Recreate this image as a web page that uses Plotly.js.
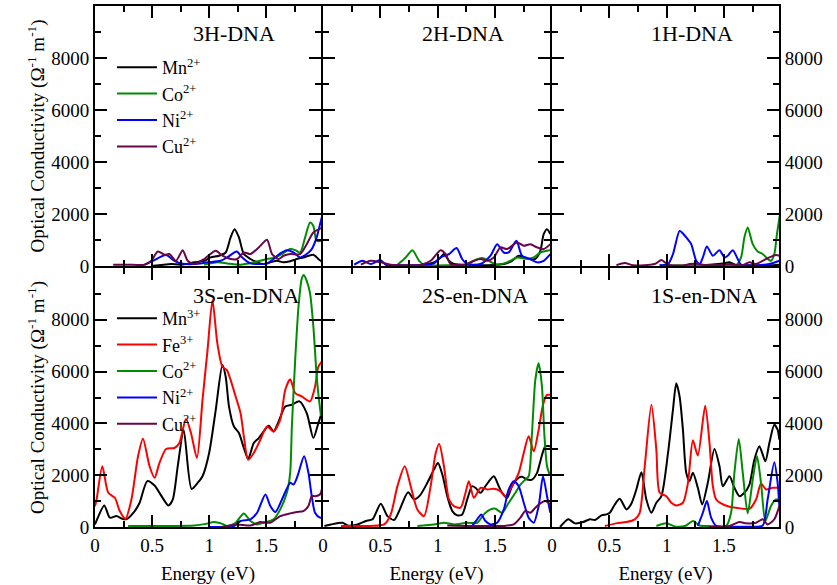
<!DOCTYPE html>
<html>
<head>
<meta charset="utf-8">
<script src="https://cdn.plot.ly/plotly-3.0.1.min.js"></script>
<style>html,body{margin:0;padding:0;background:#fff;}#chart{width:837px;height:585px;}</style>
</head>
<body>
<div id="chart"></div>
<script>
// ---------- DATA (Energy in eV, optical conductivity in Ω^-1 m^-1) ----------
// 3H-DNA
const e3H_Mn = [0.493,0.580,0.667,0.754,0.870,0.957,1.014,1.087,1.145,1.188,1.223,1.261,1.304,1.362,1.420,1.478,1.536,1.594,1.652,1.710,1.768,1.826,1.913,1.957,1.994];
const v3H_Mn = [0,40,75,50,140,200,330,395,520,1100,1415,1100,460,270,140,75,140,200,140,180,270,330,435,270,140];
const e3H_Co = [0.957,1.072,1.159,1.275,1.391,1.507,1.580,1.638,1.710,1.754,1.797,1.841,1.884,1.913,1.942,1.994];
const v3H_Co = [50,140,100,50,140,270,330,460,650,610,520,1100,1670,1540,970,970];
const e3H_Ni = [0.435,0.507,0.623,0.696,0.754,0.870,0.986,1.101,1.159,1.241,1.290,1.362,1.449,1.507,1.565,1.623,1.681,1.739,1.797,1.855,1.899,1.942,1.971,1.994];
const v3H_Ni = [50,200,420,200,100,75,140,200,330,560,330,100,75,100,270,485,610,520,330,460,650,1100,1600,1990];
const e3H_Cu = [0.159,0.290,0.435,0.493,0.551,0.609,0.652,0.710,0.768,0.812,0.870,0.957,1.058,1.116,1.188,1.246,1.304,1.362,1.435,1.507,1.551,1.609,1.652,1.710,1.797,1.855,1.913,1.994];
const v3H_Cu = [50,50,50,200,560,435,460,200,610,200,75,270,590,395,270,270,520,460,715,1010,460,270,395,460,460,840,1290,1480];

// 2H-DNA
const e2H_Mn = [0.852,0.968,1.026,1.055,1.099,1.142,1.287,1.432,1.577,1.649,1.707,1.751,1.794,1.852,1.896,1.925,1.954,1.983];
const v2H_Mn = [40,140,330,460,200,75,30,30,75,200,395,330,270,270,585,1225,1415,1225];
const e2H_Co = [0.649,0.722,0.780,0.838,0.881,1.142,1.258,1.316,1.388,1.446,1.519,1.606,1.693,1.780,1.838,1.896,1.954,1.983];
const v2H_Co = [50,330,610,200,50,30,30,200,305,200,50,140,330,270,330,520,585,610];
const e2H_Ni = [0.272,0.345,0.417,0.499,0.548,0.707,0.852,0.968,1.026,1.099,1.165,1.214,1.258,1.374,1.461,1.519,1.577,1.620,1.687,1.736,1.809,1.867,1.925,1.983];
const v2H_Ni = [50,200,75,230,50,30,40,100,330,460,690,270,75,75,395,840,520,520,970,395,270,140,200,460];
const e2H_Cu = [0.330,0.417,0.504,0.591,0.707,0.852,0.939,1.026,1.070,1.113,1.229,1.316,1.374,1.432,1.490,1.548,1.606,1.693,1.751,1.809,1.867,1.925,1.983];
const v2H_Cu = [50,200,140,50,30,40,200,610,460,75,50,200,270,200,330,715,650,905,780,840,715,650,840];

// 1H-DNA
const e1H_Mn = [1.142,1.287,1.490,1.548,1.606,1.722,1.838,1.983];
const v1H_Mn = [10,30,100,140,30,30,10,50];
const e1H_Co = [0.939,1.142,1.432,1.606,1.649,1.678,1.707,1.751,1.794,1.838,1.881,1.910,1.939,1.962,1.988];
const v1H_Co = [30,20,20,30,330,1100,1480,840,560,460,270,200,460,1225,1990];
const e1H_Ni = [0.939,1.012,1.055,1.113,1.142,1.171,1.214,1.258,1.287,1.316,1.351,1.403,1.461,1.504,1.533,1.577,1.620,1.649,1.780,1.896,1.983];
const v1H_Ni = [30,75,460,1350,1250,1100,840,200,75,330,750,395,610,330,395,610,270,50,30,75,200];
const e1H_Cu = [0.562,0.635,0.707,0.896,0.954,1.012,1.142,1.200,1.258,1.316,1.432,1.548,1.664,1.722,1.780,1.838,1.896,1.954,1.983];
const v1H_Cu = [30,115,30,75,230,50,20,75,100,50,30,75,30,140,75,200,330,420,395];

// 3S-en-DNA
const e3S_Mn = [0,0.014,0.081,0.130,0.188,0.232,0.275,0.348,0.391,0.458,0.522,0.565,0.643,0.681,0.725,0.777,0.846,0.899,0.942,1.000,1.058,1.116,1.145,1.174,1.217,1.261,1.304,1.342,1.391,1.435,1.478,1.522,1.565,1.609,1.667,1.725,1.791,1.855,1.913,1.957,1.986];
const v3S_Mn = [100,250,833,360,420,330,300,615,935,1770,1600,1320,833,1060,2350,3750,1470,1700,1960,2860,4525,6256,5800,4650,3880,3630,3050,2630,3240,3435,3690,3910,3690,4080,4650,4720,4850,4400,3435,4010,4400];
const e3S_Fe = [0,0.014,0.064,0.116,0.174,0.217,0.267,0.319,0.377,0.420,0.478,0.522,0.565,0.623,0.696,0.739,0.797,0.841,0.893,0.942,0.986,1.029,1.072,1.116,1.154,1.188,1.232,1.275,1.304,1.342,1.391,1.449,1.507,1.565,1.623,1.667,1.710,1.754,1.812,1.884,1.928,1.957,1.994];
const v3S_Fe = [800,1060,2346,1320,1130,615,320,1060,2730,3410,2346,1900,2475,3013,3050,3240,4166,3630,2667,4910,6833,8756,7090,6190,6064,5680,5040,4400,3500,2600,2860,3370,3880,3690,4140,5300,5700,5170,5040,4850,5420,6190,6420];
const e3S_Co = [0.29,0.58,0.87,0.971,1.043,1.116,1.159,1.232,1.304,1.362,1.42,1.478,1.565,1.623,1.681,1.710,1.725,1.754,1.783,1.812,1.830,1.855,1.884,1.913,1.942,1.962,1.980];
const v3S_Co = [40,40,60,120,190,120,40,165,525,230,100,165,300,680,1320,2090,3900,6460,8510,9600,9730,9500,9024,7744,5824,4930,4290];
const e3S_Ni = [1.0,1.217,1.275,1.362,1.420,1.493,1.536,1.580,1.638,1.710,1.739,1.774,1.832,1.870,1.899,1.928,1.971,2.0];
const v3S_Ni = [0,40,230,295,550,1256,810,577,1064,1705,1640,1960,2730,2090,1190,550,360,360];
const e3S_Cu = [1.1,1.159,1.246,1.362,1.449,1.536,1.623,1.710,1.768,1.826,1.870,1.899,1.928,1.971,2.0];
const v3S_Cu = [0,40,100,60,190,165,420,525,577,615,810,1190,1190,1256,1705];

// 2S-en-DNA
const e2S_Mn = [0.012,0.070,0.171,0.214,0.301,0.374,0.432,0.504,0.562,0.620,0.664,0.742,0.794,0.846,0.910,0.968,1.003,1.041,1.084,1.128,1.171,1.214,1.258,1.301,1.330,1.374,1.417,1.490,1.533,1.562,1.606,1.649,1.707,1.736,1.780,1.823,1.867,1.896,1.939,1.983];
const v2S_Mn = [40,100,165,60,100,230,300,900,420,270,615,1346,1064,1220,1705,2218,2474,2025,1190,615,450,487,1064,1577,1513,1320,1577,1960,1577,1320,1130,1577,1900,1936,1833,1833,2090,2540,3115,3115];
const e2S_Fe = [0.157,0.272,0.417,0.533,0.591,0.649,0.713,0.765,0.823,0.881,0.939,0.983,1.014,1.055,1.099,1.142,1.200,1.243,1.272,1.316,1.374,1.432,1.490,1.548,1.591,1.649,1.707,1.751,1.794,1.838,1.881,1.919,1.954,1.983];
const v2S_Fe = [40,40,40,100,490,1577,2346,1577,680,420,1577,2860,3205,2346,1064,808,744,1320,1770,1130,1513,1450,1475,1385,1190,1577,2090,2860,3500,2920,3756,4720,5100,5100];
const e2S_Co = [0.823,0.968,1.055,1.142,1.258,1.345,1.403,1.461,1.504,1.562,1.620,1.678,1.722,1.765,1.794,1.823,1.852,1.881,1.910,1.930,1.954,1.977];
const v2S_Co = [40,100,165,100,165,165,487,680,705,550,935,1320,1640,1833,1960,3630,5680,6320,5420,3630,2346,2025];
const e2S_Ni = [1.301,1.345,1.380,1.417,1.461,1.519,1.577,1.620,1.664,1.707,1.751,1.794,1.838,1.881,1.919,1.954,1.983];
const v2S_Ni = [40,295,487,230,100,165,680,1450,1770,1577,935,360,165,808,1960,1190,550];
const e2S_Cu = [1.084,1.287,1.432,1.577,1.664,1.722,1.765,1.809,1.852,1.896,1.939,1.983];
const v2S_Cu = [60,40,40,40,100,360,615,550,744,910,1000,870];

// 1S-en-DNA
const e1S_Mn = [0.070,0.142,0.200,0.272,0.330,0.374,0.432,0.475,0.504,0.548,0.591,0.649,0.693,0.736,0.780,0.823,0.867,0.910,0.954,1.012,1.055,1.084,1.113,1.142,1.171,1.200,1.229,1.272,1.310,1.359,1.417,1.461,1.490,1.548,1.591,1.635,1.678,1.722,1.765,1.809,1.861,1.896,1.939,1.968,1.983];
const v1S_Mn = [0,300,140,190,300,270,450,487,550,870,1090,680,910,1450,2115,1064,550,935,1190,2860,4525,5550,5040,3756,2090,1770,2090,1513,870,1705,3013,2346,1577,1960,1513,1190,1320,1640,2600,3115,2540,3240,3950,3756,3370];
const e1S_Fe = [0.461,0.562,0.649,0.722,0.765,0.809,0.867,0.910,0.939,0.997,1.041,1.084,1.142,1.186,1.229,1.272,1.336,1.374,1.403,1.432,1.475,1.548,1.606,1.722,1.780,1.823,1.867,1.925,1.983];
const v1S_Fe = [40,140,190,295,550,2346,4720,2990,1320,1190,935,833,935,1705,3346,2756,4680,3240,1577,1064,910,782,744,705,1064,1680,1450,1513,1513];
const e1S_Co = [0.910,0.997,1.084,1.171,1.229,1.287,1.374,1.519,1.562,1.591,1.629,1.664,1.707,1.751,1.788,1.823,1.861,1.910,1.954,1.983];
const v1S_Co = [40,140,10,60,230,60,40,40,550,2090,3400,2090,525,1833,2730,1705,230,808,1064,1064];
const e1S_Ni = [1.272,1.316,1.351,1.388,1.432,1.577,1.722,1.838,1.881,1.939,1.968,1.983];
const v1S_Ni = [40,550,1000,360,40,10,10,60,1064,2500,1705,808];
const e1S_Cu = [1.374,1.548,1.635,1.693,1.780,1.838,1.881,1.939,1.983];
const v1S_Cu = [0,40,190,140,165,300,100,300,808];

// Labels
const panelTitles = ['3H-DNA','2H-DNA','1H-DNA','3S-en-DNA','2S-en-DNA','1S-en-DNA'];
const xTickVals = [0, 0.5, 1, 1.5];
const xTickText = ['0', '0.5', '1', '1.5'];
const yTickVals = [0, 2000, 4000, 6000, 8000];
const yTickText = ['0', '2000', '4000', '6000', '8000'];
const xTitle = 'Energy (eV)';
const yTitle = 'Optical Conductivity (Ω<sup>-1</sup> m<sup>-1</sup>)';

// ---------- STYLE ----------
const C = {Mn:'#000000', Fe:'#ff0000', Co:'#008c00', Ni:'#0000ff', Cu:'#670748'};
const FONT = 'Liberation Serif';

function tr(x, y, ion, charge, xa, ya, legend, show) {
  return {
    x: x, y: y, type: 'scatter', mode: 'lines',
    name: ion + '<sup>' + charge + '</sup>',
    line: {color: C[ion], width: 2, shape: 'spline', smoothing: 0.7},
    xaxis: xa, yaxis: ya, legend: legend, showlegend: show, hoverinfo: 'skip'
  };
}

const data = [
  tr(e3H_Mn, v3H_Mn, 'Mn', '2+', 'x', 'y', 'legend', true),
  tr(e3H_Co, v3H_Co, 'Co', '2+', 'x', 'y', 'legend', true),
  tr(e3H_Ni, v3H_Ni, 'Ni', '2+', 'x', 'y', 'legend', true),
  tr(e3H_Cu, v3H_Cu, 'Cu', '2+', 'x', 'y', 'legend', true),
  tr(e2H_Mn, v2H_Mn, 'Mn', '2+', 'x2', 'y2', 'legend', false),
  tr(e2H_Co, v2H_Co, 'Co', '2+', 'x2', 'y2', 'legend', false),
  tr(e2H_Ni, v2H_Ni, 'Ni', '2+', 'x2', 'y2', 'legend', false),
  tr(e2H_Cu, v2H_Cu, 'Cu', '2+', 'x2', 'y2', 'legend', false),
  tr(e1H_Mn, v1H_Mn, 'Mn', '2+', 'x3', 'y3', 'legend', false),
  tr(e1H_Co, v1H_Co, 'Co', '2+', 'x3', 'y3', 'legend', false),
  tr(e1H_Ni, v1H_Ni, 'Ni', '2+', 'x3', 'y3', 'legend', false),
  tr(e1H_Cu, v1H_Cu, 'Cu', '2+', 'x3', 'y3', 'legend', false),
  tr(e3S_Mn, v3S_Mn, 'Mn', '3+', 'x4', 'y4', 'legend2', true),
  tr(e3S_Fe, v3S_Fe, 'Fe', '3+', 'x4', 'y4', 'legend2', true),
  tr(e3S_Co, v3S_Co, 'Co', '2+', 'x4', 'y4', 'legend2', true),
  tr(e3S_Ni, v3S_Ni, 'Ni', '2+', 'x4', 'y4', 'legend2', true),
  tr(e3S_Cu, v3S_Cu, 'Cu', '2+', 'x4', 'y4', 'legend2', true),
  tr(e2S_Mn, v2S_Mn, 'Mn', '3+', 'x5', 'y5', 'legend2', false),
  tr(e2S_Fe, v2S_Fe, 'Fe', '3+', 'x5', 'y5', 'legend2', false),
  tr(e2S_Co, v2S_Co, 'Co', '2+', 'x5', 'y5', 'legend2', false),
  tr(e2S_Ni, v2S_Ni, 'Ni', '2+', 'x5', 'y5', 'legend2', false),
  tr(e2S_Cu, v2S_Cu, 'Cu', '2+', 'x5', 'y5', 'legend2', false),
  tr(e1S_Mn, v1S_Mn, 'Mn', '3+', 'x6', 'y6', 'legend2', false),
  tr(e1S_Fe, v1S_Fe, 'Fe', '3+', 'x6', 'y6', 'legend2', false),
  tr(e1S_Co, v1S_Co, 'Co', '2+', 'x6', 'y6', 'legend2', false),
  tr(e1S_Ni, v1S_Ni, 'Ni', '2+', 'x6', 'y6', 'legend2', false),
  tr(e1S_Cu, v1S_Cu, 'Cu', '2+', 'x6', 'y6', 'legend2', false)
];

const W = 837, H = 585;
// domains chosen so that the shared frame lines of neighbouring panels coincide
const colX = [[95, 321], [323, 550], [552, 779]];
const rowY = [[6, 266], [268, 527]];
const px2x = p => p / W;
const py2y = p => 1 - p / H;

function xax(col, row) {
  const n = row * 3 + col + 1;
  return {
    domain: [px2x(colX[col][0]), px2x(colX[col][1])],
    anchor: 'y' + (n === 1 ? '' : n),
    range: [0, 1.98], tickmode: 'array', tickvals: xTickVals, ticktext: xTickText,
    showticklabels: row === 1,
    ticks: 'inside', ticklen: 12, tickwidth: 2, tickcolor: '#000',
    minor: {tickmode: 'array', tickvals: [0.25, 0.75, 1.25, 1.75], ticks: 'inside', ticklen: 6, tickwidth: 2, tickcolor: '#000'},
    showline: true, linewidth: 2, linecolor: '#000', mirror: 'ticks',
    showgrid: false, zeroline: false, fixedrange: true,
    tickfont: {family: FONT, size: 19, color: '#000'},
    title: row === 1 ? {text: xTitle, font: {family: FONT, size: 19, color: '#000'}} : {text: ''}
  };
}
function yax(col, row) {
  const n = row * 3 + col + 1;
  return {
    domain: [py2y(rowY[row][1]), py2y(rowY[row][0])],
    anchor: 'x' + (n === 1 ? '' : n),
    range: [0, 10000], tickmode: 'array', tickvals: yTickVals, ticktext: yTickText,
    showticklabels: col !== 1, side: col === 2 ? 'right' : 'left',
    ticks: 'inside', ticklen: 12, tickwidth: 2, tickcolor: '#000',
    minor: {tickmode: 'array', tickvals: [1000, 3000, 5000, 7000, 9000], ticks: 'inside', ticklen: 6, tickwidth: 2, tickcolor: '#000'},
    showline: true, linewidth: 2, linecolor: '#000', mirror: 'ticks',
    showgrid: false, zeroline: false, fixedrange: true,
    tickfont: {family: FONT, size: 19, color: '#000'},
    title: col === 0 ? {text: yTitle, font: {family: FONT, size: 19, color: '#000'}} : {text: ''}
  };
}

const layout = {
  width: W, height: H, margin: {l: 0, r: 0, t: 0, b: 0},
  paper_bgcolor: '#fff', plot_bgcolor: '#fff',
  font: {family: FONT, size: 19, color: '#000'},
  legend: {x: px2x(112), y: py2y(49), xanchor: 'left', yanchor: 'top', bgcolor: 'rgba(0,0,0,0)',
           font: {family: FONT, size: 18, color: '#000'}, tracegroupgap: 0, itemwidth: 40},
  legend2: {x: px2x(112), y: py2y(300), xanchor: 'left', yanchor: 'top', bgcolor: 'rgba(0,0,0,0)',
           font: {family: FONT, size: 18, color: '#000'}, tracegroupgap: 0, itemwidth: 40},
  annotations: []
};
let k = 0;
for (let row = 0; row < 2; row++) {
  for (let col = 0; col < 3; col++) {
    const n = row * 3 + col + 1;
    const s = n === 1 ? '' : String(n);
    layout['xaxis' + s] = xax(col, row);
    layout['yaxis' + s] = yax(col, row);
    const rightPx = row === 0 ? colX[col][1] - 44 : colX[col][1] - 20;
    const midPx = row === 0 ? 33 : 295;
    layout.annotations.push({
      text: panelTitles[k++], xref: 'paper', yref: 'paper',
      x: px2x(rightPx), y: py2y(midPx), xanchor: 'right', yanchor: 'middle',
      showarrow: false, font: {family: FONT, size: 22, color: '#000'}
    });
  }
}

Plotly.newPlot('chart', data, layout, {displayModeBar: false, staticPlot: true});
</script>
</body>
</html>
